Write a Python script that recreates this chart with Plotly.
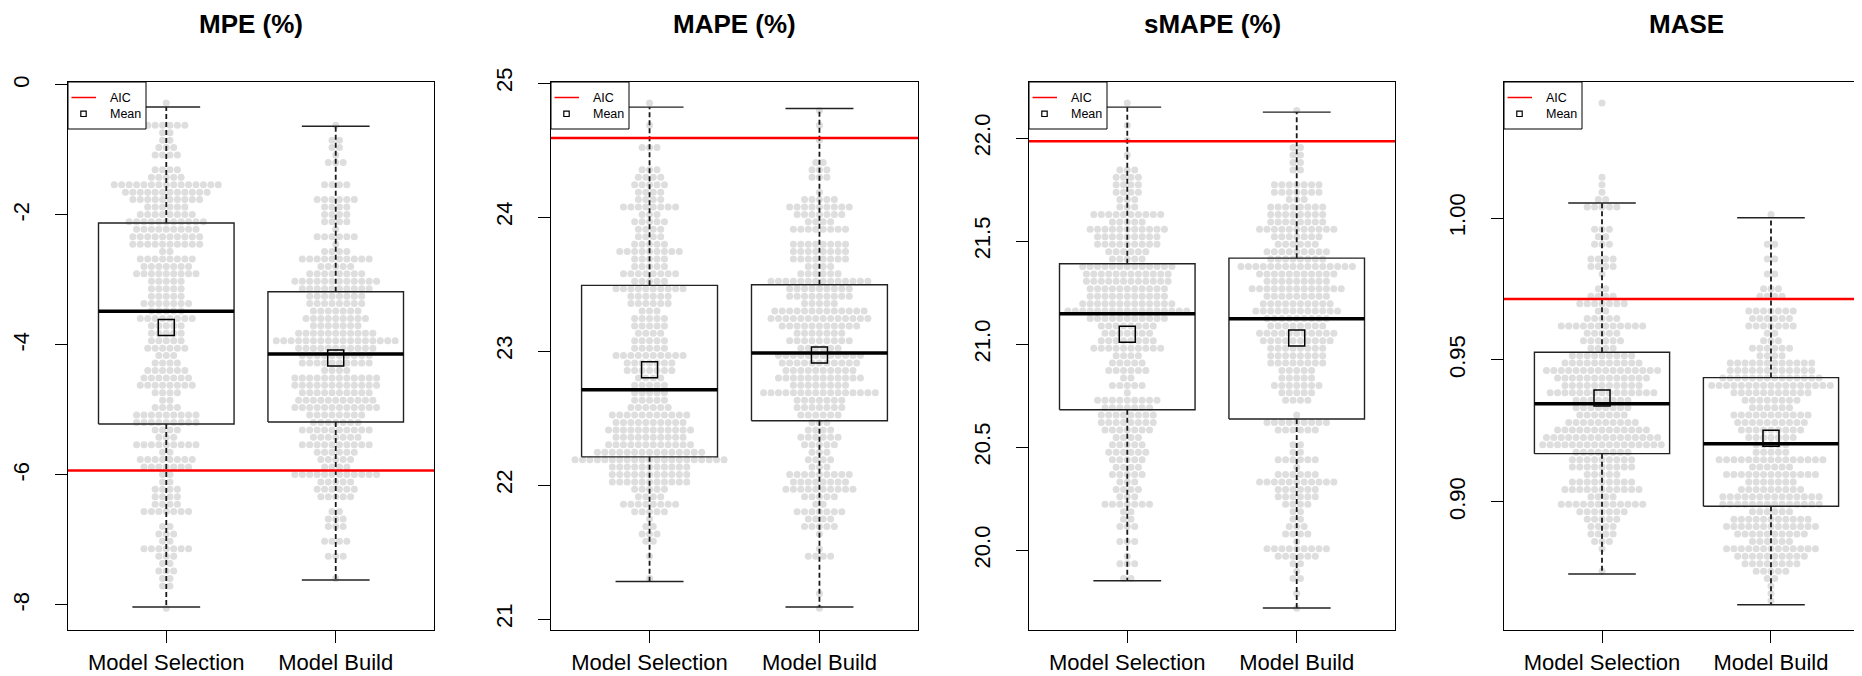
import plotly.graph_objects as go

# ---------------- data ----------------
GROUPS = ["Model Selection", "Model Build"]
TITLES = ["MPE (%)", "MAPE (%)", "sMAPE (%)", "MASE"]

# box statistics per group: [Model Selection, Model Build]
MPE_WHISK_LO = [-8.03, -7.615]
MPE_Q1 = [-5.215, -5.185]
MPE_MEDIAN = [-3.48, -4.138]
MPE_Q3 = [-2.123, -3.18]
MPE_WHISK_HI = [-0.338, -0.635]
MPE_MEAN = [-3.73, -4.20]
MPE_AIC = -5.93

MAPE_WHISK_LO = [21.28, 21.09]
MAPE_Q1 = [22.21, 22.48]
MAPE_MEDIAN = [22.71, 22.985]
MAPE_Q3 = [23.49, 23.495]
MAPE_WHISK_HI = [24.82, 24.81]
MAPE_MEAN = [22.86, 22.97]
MAPE_AIC = 24.59

SMAPE_WHISK_LO = [19.852, 19.72]
SMAPE_Q1 = [20.682, 20.637]
SMAPE_MEDIAN = [21.148, 21.124]
SMAPE_Q3 = [21.391, 21.418]
SMAPE_WHISK_HI = [22.151, 22.127]
SMAPE_MEAN = [21.049, 21.03]
SMAPE_AIC = 21.985

MASE_WHISK_LO = [0.8746, 0.8638]
MASE_Q1 = [0.9170, 0.8985]
MASE_MEDIAN = [0.9346, 0.9205]
MASE_Q3 = [0.9527, 0.9438]
MASE_WHISK_HI = [1.0053, 1.0001]
MASE_MEAN = [0.9366, 0.9224]
MASE_AIC = 0.9715

# beeswarm: binned rows (value of the first bin, bin width) and dots per bin, top to bottom
MPE_ROW_TOP, MPE_ROW_STEP = -0.277, 0.1143
MPE_SEL_COUNTS = [1, 0, 0, 6, 2, 2, 3, 4, 0, 4, 5, 15, 12, 10, 6, 8, 11, 9, 10, 10,
                  2, 8, 7, 9, 5, 5, 5, 7, 5, 8, 5, 5, 5, 6, 3, 4, 6, 7, 8, 4,
                  2, 4, 9, 9, 4, 3, 9, 2, 8, 7, 2, 2, 4, 4, 4, 7, 0, 2, 3, 2,
                  7, 3, 2, 3, 2, 2, 0, 0, 1]
MPE_BUILD_COUNTS = [0, 0, 0, 1, 0, 2, 2, 1, 3, 0, 0, 4, 0, 6, 4, 4, 4, 1, 6, 1,
                    4, 10, 5, 8, 12, 10, 8, 8, 7, 9, 7, 11, 17, 11, 10, 10, 4, 12, 12, 10,
                    11, 12, 8, 7, 10, 7, 10, 6, 5, 4, 12, 5, 6, 5, 0, 2, 3, 3, 0, 4,
                    0, 3, 0, 0, 1]

MAPE_ROW_TOP, MAPE_ROW_STEP = 24.851, 0.05545
MAPE_SEL_COUNTS = [1, 0, 0, 1, 0, 0, 3, 0, 0, 3, 4, 5, 4, 4, 8, 3, 5, 4, 4, 5,
                   9, 5, 5, 8, 5, 10, 6, 6, 3, 5, 5, 4, 5, 5, 10, 7, 7, 4, 5, 5,
                   5, 6, 11, 10, 12, 10, 12, 15, 21, 11, 11, 11, 5, 4, 8, 5, 1, 2, 3, 2,
                   0, 1, 0, 0, 1]
MAPE_BUILD_COUNTS = [0, 1, 0, 1, 0, 1, 0, 0, 2, 3, 3, 0, 1, 5, 9, 7, 4, 8, 0, 8,
                     8, 8, 4, 6, 14, 9, 9, 5, 13, 14, 11, 7, 9, 6, 12, 11, 10, 12, 8, 16,
                     7, 7, 6, 3, 4, 6, 5, 3, 4, 3, 9, 8, 10, 5, 2, 7, 4, 5, 1, 0,
                     1, 4, 0, 0, 0, 0, 1, 0, 1]

SMAPE_ROW_TOP, SMAPE_ROW_STEP = 22.171, 0.03607
SMAPE_SEL_COUNTS = [1, 0, 0, 1, 0, 1, 0, 1, 0, 3, 4, 4, 4, 3, 3, 10, 5, 11, 9, 9,
                    6, 5, 13, 12, 12, 11, 11, 13, 17, 11, 8, 7, 8, 10, 4, 5, 6, 2, 5, 1,
                    9, 7, 8, 8, 7, 4, 5, 6, 5, 4, 5, 3, 4, 3, 7, 2, 2, 3, 0, 3,
                    0, 1, 3, 0, 2]
SMAPE_BUILD_COUNTS = [0, 1, 0, 0, 0, 0, 2, 2, 2, 2, 0, 7, 7, 3, 8, 8, 8, 11, 7, 6,
                      9, 8, 16, 11, 9, 13, 9, 10, 12, 9, 8, 11, 10, 8, 8, 8, 5, 5, 7, 5,
                      4, 0, 1, 9, 6, 0, 2, 2, 6, 1, 6, 11, 6, 6, 4, 2, 2, 3, 4, 1,
                      9, 6, 2, 1, 2, 0, 1, 0, 1]

MASE_ROW_TOP, MASE_ROW_STEP = 1.0405, 0.002617
MASE_SEL_COUNTS = [1, 0, 0, 0, 0, 0, 0, 0, 0, 0, 1, 1, 1, 2, 5, 0, 0, 3, 2, 3,
                   0, 4, 4, 1, 0, 2, 4, 7, 2, 5, 12, 5, 6, 4, 9, 11, 16, 13, 11, 15,
                   8, 8, 7, 10, 13, 16, 17, 8, 9, 9, 5, 9, 11, 4, 12, 7, 5, 4, 4, 3,
                   1, 0, 0, 1]
MASE_BUILD_COUNTS = [0, 0, 0, 0, 0, 0, 0, 0, 0, 0, 0, 0, 0, 0, 0, 1, 0, 0, 0, 2,
                     0, 2, 0, 2, 0, 3, 4, 0, 7, 6, 7, 2, 3, 6, 4, 12, 12, 14, 17, 11,
                     8, 6, 11, 10, 9, 7, 5, 5, 15, 6, 13, 7, 9, 14, 14, 6, 11, 13, 10, 6,
                     13, 10, 8, 5, 2, 1, 1, 1]

# ---------------- layout constants ----------------
W, H = 1862, 676
PANEL_X = [(60, 426), (543, 910), (1021, 1387), (1496, 1861)]
PLOT_TOP, PLOT_BOT = 74, 622
Y_RANGES = [(-8.385, 0.046), (20.918, 25.0075), (19.613, 22.273), (0.8549, 1.0479)]
Y_TICKS = [([0, -2, -4, -6, -8], ["0", "-2", "-4", "-6", "-8"]),
           ([21, 22, 23, 24, 25], ["21", "22", "23", "24", "25"]),
           ([20.0, 20.5, 21.0, 21.5, 22.0], ["20.0", "20.5", "21.0", "21.5", "22.0"]),
           ([0.90, 0.95, 1.00], ["0.90", "0.95", "1.00"])]
X_RANGE = (0.42, 2.58)
DOT_DX = 0.04385
FONT = "Liberation Sans, Arial, Helvetica, sans-serif"
DOT_COLOR = "#DEDEDE"

panels = [
    dict(lo=MPE_WHISK_LO, q1=MPE_Q1, med=MPE_MEDIAN, q3=MPE_Q3, hi=MPE_WHISK_HI, mean=MPE_MEAN,
         aic=MPE_AIC, top=MPE_ROW_TOP, step=MPE_ROW_STEP, counts=[MPE_SEL_COUNTS, MPE_BUILD_COUNTS]),
    dict(lo=MAPE_WHISK_LO, q1=MAPE_Q1, med=MAPE_MEDIAN, q3=MAPE_Q3, hi=MAPE_WHISK_HI, mean=MAPE_MEAN,
         aic=MAPE_AIC, top=MAPE_ROW_TOP, step=MAPE_ROW_STEP, counts=[MAPE_SEL_COUNTS, MAPE_BUILD_COUNTS]),
    dict(lo=SMAPE_WHISK_LO, q1=SMAPE_Q1, med=SMAPE_MEDIAN, q3=SMAPE_Q3, hi=SMAPE_WHISK_HI, mean=SMAPE_MEAN,
         aic=SMAPE_AIC, top=SMAPE_ROW_TOP, step=SMAPE_ROW_STEP, counts=[SMAPE_SEL_COUNTS, SMAPE_BUILD_COUNTS]),
    dict(lo=MASE_WHISK_LO, q1=MASE_Q1, med=MASE_MEDIAN, q3=MASE_Q3, hi=MASE_WHISK_HI, mean=MASE_MEAN,
         aic=MASE_AIC, top=MASE_ROW_TOP, step=MASE_ROW_STEP, counts=[MASE_SEL_COUNTS, MASE_BUILD_COUNTS]),
]

fig = go.Figure()
shapes, annotations = [], []
ydom = [1 - PLOT_BOT / H, 1 - PLOT_TOP / H]

for k, p in enumerate(panels):
    n = "" if k == 0 else str(k + 1)
    xa, ya = "x" + n, "y" + n
    pos = [1, 2]

    # beeswarm dots
    dx, dy = [], []
    for g in range(2):
        for r, c in enumerate(p["counts"][g]):
            yv = p["top"] - r * p["step"]
            for i in range(c):
                dx.append(pos[g] + (i - (c - 1) / 2) * DOT_DX)
                dy.append(yv)
    fig.add_trace(go.Scatter(x=dx, y=dy, mode="markers", xaxis=xa, yaxis=ya,
                             marker=dict(size=7, color=DOT_COLOR, line=dict(width=0)),
                             hoverinfo="skip", showlegend=False))

    # boxes and caps
    bx, by, wx, wy, mx, my = [], [], [], [], [], []
    for g in range(2):
        c = pos[g]
        bx += [c - 0.4, c + 0.4, c + 0.4, c - 0.4, c - 0.4, None,
               c - 0.2, c + 0.2, None, c - 0.2, c + 0.2, None]
        by += [p["q1"][g], p["q1"][g], p["q3"][g], p["q3"][g], p["q1"][g], None,
               p["lo"][g], p["lo"][g], None, p["hi"][g], p["hi"][g], None]
        wx += [c, c, None, c, c, None]
        wy += [p["q3"][g], p["hi"][g], None, p["q1"][g], p["lo"][g], None]
        mx += [c - 0.4, c + 0.4, None]
        my += [p["med"][g], p["med"][g], None]
    fig.add_trace(go.Scatter(x=wx, y=wy, mode="lines", xaxis=xa, yaxis=ya,
                             line=dict(color="#1a1a1a", width=1.8, dash="5px,3px"),
                             hoverinfo="skip", showlegend=False))
    fig.add_trace(go.Scatter(x=bx, y=by, mode="lines", xaxis=xa, yaxis=ya,
                             line=dict(color="#222222", width=1.4),
                             hoverinfo="skip", showlegend=False))
    fig.add_trace(go.Scatter(x=mx, y=my, mode="lines", xaxis=xa, yaxis=ya,
                             line=dict(color="black", width=3.5),
                             hoverinfo="skip", showlegend=False))
    fig.add_trace(go.Scatter(x=pos, y=p["mean"], mode="markers", xaxis=xa, yaxis=ya,
                             marker=dict(symbol="square-open", size=16, color="black",
                                         line=dict(width=1.5, color="black")),
                             hoverinfo="skip", showlegend=False))

    # AIC reference line
    shapes.append(dict(type="line", xref=xa + " domain", yref=ya, x0=0, x1=1,
                       y0=p["aic"], y1=p["aic"], line=dict(color="red", width=2.5)))

    # legend box
    pw = PANEL_X[k][1] - PANEL_X[k][0]
    ph = PLOT_BOT - PLOT_TOP
    shapes.append(dict(type="rect", xref=xa + " domain", yref=ya + " domain",
                       x0=0, x1=78 / pw, y0=1 - 47 / ph, y1=1,
                       fillcolor="white", line=dict(color="black", width=1)))
    shapes.append(dict(type="line", xref=xa + " domain", yref=ya + " domain",
                       x0=3.5 / pw, x1=28 / pw, y0=1 - 15.5 / ph, y1=1 - 15.5 / ph,
                       line=dict(color="red", width=1.5)))
    shapes.append(dict(type="rect", xref=xa + " domain", yref=ya + " domain",
                       x0=12.8 / pw, x1=18.2 / pw, y0=1 - 34.5 / ph, y1=1 - 29.1 / ph,
                       line=dict(color="black", width=1.2)))
    for txt, yy in (("AIC", 15.5), ("Mean", 32)):
        annotations.append(dict(text=txt, xref=xa + " domain", yref=ya + " domain",
                                x=40 / pw, y=1 - yy / ph, xanchor="left", yanchor="middle",
                                showarrow=False, font=dict(family=FONT, size=12.5, color="black")))

    # panel title
    annotations.append(dict(text="<b>" + TITLES[k] + "</b>", xref="paper", yref="paper",
                            x=(PANEL_X[k][0] + PANEL_X[k][1]) / 2 / W, y=1 - 16 / H,
                            xanchor="center", yanchor="middle", showarrow=False,
                            font=dict(family=FONT, size=26, color="black")))

    axis_common = dict(showline=True, mirror=True, linecolor="black", linewidth=1.4,
                       showgrid=False, zeroline=False, ticks="outside", ticklen=12,
                       tickwidth=1.4, tickcolor="black", automargin=False,
                       tickfont=dict(family=FONT, size=22, color="black"))
    fig.layout["xaxis" + n] = dict(domain=[PANEL_X[k][0] / W, PANEL_X[k][1] / W], anchor=ya,
                                   range=list(X_RANGE), tickvals=pos, ticktext=GROUPS,
                                   fixedrange=True, **axis_common)
    fig.layout["yaxis" + n] = dict(domain=ydom, anchor=xa, range=list(Y_RANGES[k]),
                                   tickvals=Y_TICKS[k][0], ticktext=Y_TICKS[k][1],
                                   tickangle=-90, ticklabelstandoff=17, fixedrange=True,
                                   **axis_common)

fig.update_layout(width=W, height=H, margin=dict(l=0, r=0, t=0, b=0),
                  paper_bgcolor="white", plot_bgcolor="white",
                  shapes=shapes, annotations=annotations, showlegend=False,
                  font=dict(family=FONT, color="black"))

fig.write_html("out.html")
